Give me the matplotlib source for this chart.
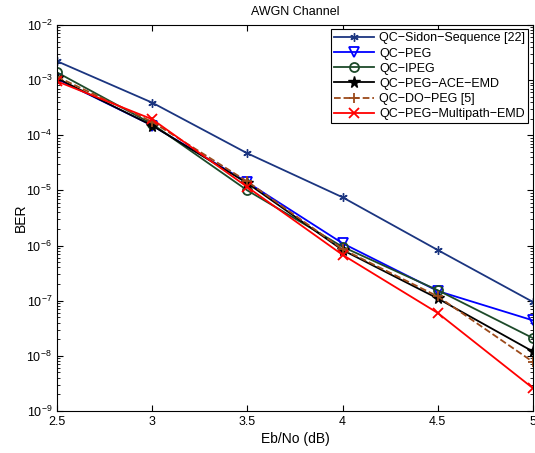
import matplotlib.pyplot as plt

plt.rcParams['font.family'] = ['Liberation Sans', 'DejaVu Sans']

ebno = [2.5, 3.0, 3.5, 4.0, 4.5, 5.0]

sidon = [2.2e-3, 3.9e-4, 4.7e-5, 7.5e-6, 8.3e-7, 9.5e-8]
peg = [1.05e-3, 1.5e-4, 1.4e-5, 1.1e-6, 1.5e-7, 4.4e-8]
ipeg = [1.38e-3, 1.6e-4, 1.0e-5, 9.5e-7, 1.55e-7, 2.1e-8]
ace = [1.08e-3, 1.5e-4, 1.35e-5, 8.3e-7, 1.1e-7, 1.2e-8]
dopeg = [1.15e-3, 1.75e-4, 1.45e-5, 8.6e-7, 1.2e-7, 7.8e-9]
multipath = [9.5e-4, 1.95e-4, 1.15e-5, 6.8e-7, 6.0e-8, 2.6e-9]

fig = plt.figure(figsize=(5.35, 4.53), dpi=100)
ax = fig.add_axes([0.1065, 0.0927, 0.8895, 0.8523])

asterisk = (6, 2, 0)
ax.semilogy(ebno, sidon, color='#1b3580', marker=asterisk, ms=6, lw=1.3, label='QC\u2212Sidon\u2212Sequence [22]')
ax.semilogy(ebno, peg, color='#0000ff', marker='v', mfc='none', ms=6.5, mew=1.3, lw=1.3, label='QC\u2212PEG')
ax.semilogy(ebno, ipeg, color='#1d4a2a', marker='o', mfc='none', ms=6.5, mew=1.3, lw=1.3, label='QC\u2212IPEG')
ax.semilogy(ebno, ace, color='black', marker='*', ms=8.5, lw=1.3, label='QC\u2212PEG\u2212ACE\u2212EMD')
ax.semilogy(ebno, dopeg, color='#9c4a1a', ls='--', marker='+', ms=6.5, mew=1.3, lw=1.3, label='QC\u2212DO\u2212PEG [5]')
ax.semilogy(ebno, multipath, color='#ff0000', marker='x', ms=6.5, mew=1.3, lw=1.3, label='QC\u2212PEG\u2212Multipath\u2212EMD')

ax.set_xlim(2.5, 5)
ax.set_ylim(1e-9, 1e-2)
ax.set_xticks(ebno)
ax.set_xticklabels(['2.5', '3', '3.5', '4', '4.5', '5'])
ax.tick_params(which='both', direction='in', top=True, right=True, labelsize=9)
ax.tick_params(which='major', length=4)
ax.tick_params(which='minor', length=2)

ax.set_title('AWGN Channel', fontsize=9, pad=7)
ax.set_xlabel('Eb/No (dB)', fontsize=10, labelpad=3)
ax.set_ylabel('BER', fontsize=10, labelpad=-1)

leg = ax.legend(loc='upper right', fontsize=9, fancybox=False, framealpha=1,
                edgecolor='black', borderaxespad=0.35, handlelength=3.2,
                handletextpad=0.4, labelspacing=0.25, borderpad=0.25)
leg.get_frame().set_linewidth(0.8)

fig.savefig('out.png', dpi=100)
